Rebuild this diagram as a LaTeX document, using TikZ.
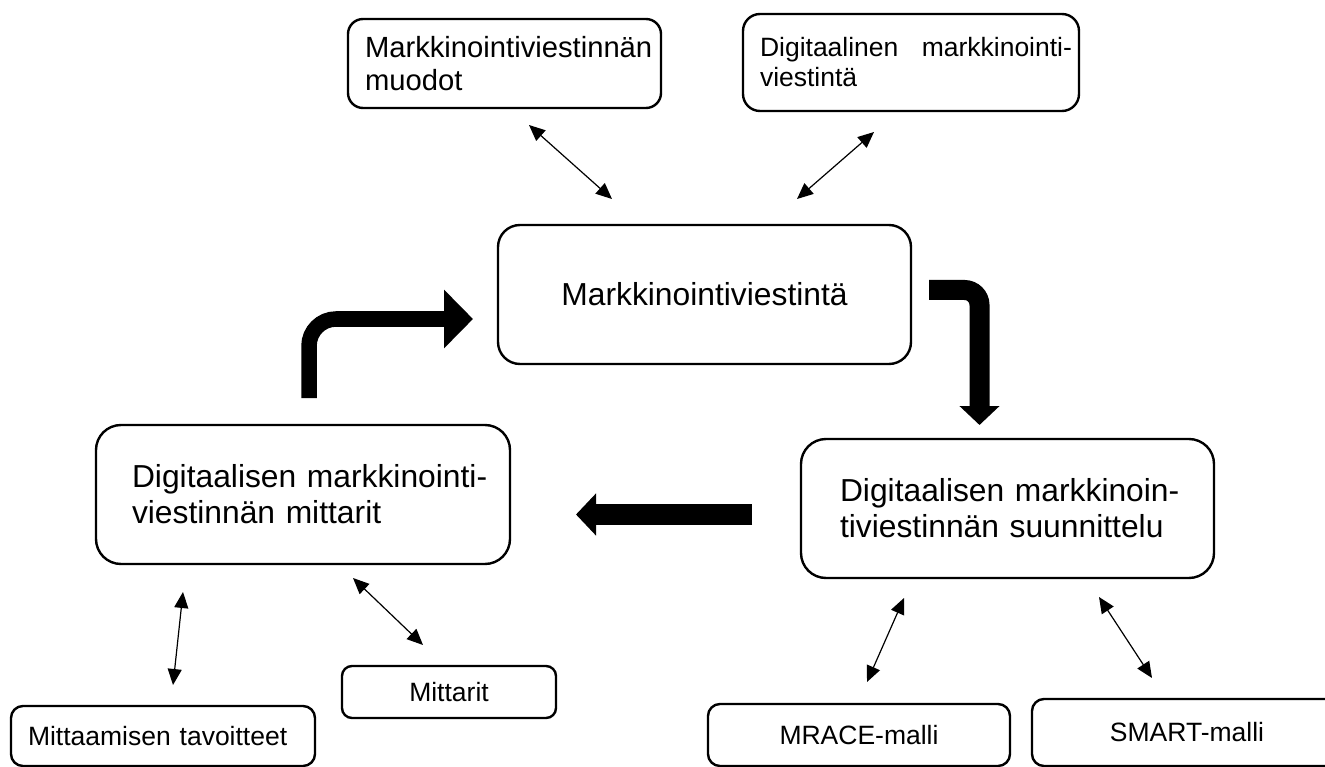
\documentclass[tikz,border=0pt]{standalone}
\usepackage{fontspec}
\setmainfont{Liberation Sans}
\usetikzlibrary{arrows.meta}
\hfuzz=100pt
\begin{document}
\begin{tikzpicture}[x=1pt,y=-1pt,
  box/.style={draw, line width=2.4pt, rounded corners=#1, inner sep=0pt},
  box/.default=15pt,
  bigfont/.style={font=\fontsize{31.8}{36}\selectfont},
  midfont/.style={font=\fontsize{29.2}{33}\selectfont},
  smallfont/.style={font=\fontsize{26.5}{30}\selectfont},
  dbl/.style={line width=1.2pt, {Triangle[length=16pt,width=14pt]}-{Triangle[length=16pt,width=14pt]}},
  block/.style={line width=#1}
]
\useasboundingbox (0,0) rectangle (1325,767);
\clip (0,0) rectangle (1325,767);

% boxes
\node[box=15pt, midfont, minimum width=313pt, minimum height=89pt, text width=279pt, align=left]
  (b1) at (504.5,63.5) {\mbox{Markkinointiviestinnän}\\\mbox{muodot}};
\node[box=17pt, smallfont, minimum width=336pt, minimum height=97pt, text width=302pt, align=left]
  (b2) at (911,62.5) {\hbox to 312pt{Digitaalinen\hfill markkinointi-}\\\mbox{viestintä}};
\node[box=22pt, bigfont, minimum width=413pt, minimum height=139pt]
  (b3) at (704.5,294.5) {Markkinointiviestintä};
\node[box=25pt, bigfont, minimum width=414pt, minimum height=139pt, text width=342pt, align=left]
  (b4) at (303,494.5) {\mbox{Digitaalisen markkinointi-}\\\mbox{viestinnän mittarit}};
\node[box=25pt, bigfont, minimum width=413pt, minimum height=139pt, text width=335pt, align=left]
  (b5) at (1007.5,508.5) {\mbox{Digitaalisen markkinoin-}\\\mbox{tiviestinnän suunnittelu}};
\node[box=10pt, smallfont, minimum width=214pt, minimum height=52pt]
  (b6) at (449,692) {Mittarit};
\node[box=12pt, smallfont, minimum width=304pt, minimum height=60pt, text width=270pt, align=left]
  (b7) at (163,736) {Mittaamisen tavoitteet};
\node[box=12pt, smallfont, minimum width=302pt, minimum height=62pt]
  (b8) at (859,735) {MRACE-malli};
\node[box=12pt, smallfont, minimum width=310pt, minimum height=67pt]
  (b9) at (1187,732.5) {SMART-malli};

% coordinates for thin arrows
\coordinate (a1) at (529,125);  \coordinate (a2) at (612,199);
\coordinate (c1) at (874,132);  \coordinate (c2) at (797,199);
\coordinate (d1) at (183,592);  \coordinate (d2) at (173,685);
\coordinate (f1) at (353,578);  \coordinate (f2) at (423,645);
\coordinate (g1) at (904,598);  \coordinate (g2) at (867,682);
\coordinate (h1) at (1099,597); \coordinate (h2) at (1152,678);

\draw[dbl] (a1) -- (a2);
\draw[dbl] (c1) -- (c2);
\draw[dbl] (d1) -- (d2);
\draw[dbl] (f1) -- (f2);
\draw[dbl] (g1) -- (g2);
\draw[dbl] (h1) -- (h2);

% block arrows
\coordinate (e1s) at (309,398);   \coordinate (e1t) at (473,319);
\coordinate (e2s) at (929,290);   \coordinate (e2t) at (979.5,425);
\coordinate (e3s) at (752,514.5); \coordinate (e3t) at (576,514.5);

\draw[block=15.5pt, rounded corners=27pt, -{Triangle[length=29pt,width=57pt]}] (e1s) |- (e1t);
\draw[block=20pt, rounded corners=15pt, -{Triangle[length=19pt,width=39pt]}] (e2s) -| (e2t);
\draw[block=21pt, -{Triangle[length=20pt,width=41pt]}] (e3s) -- (e3t);
\end{tikzpicture}
\end{document}
